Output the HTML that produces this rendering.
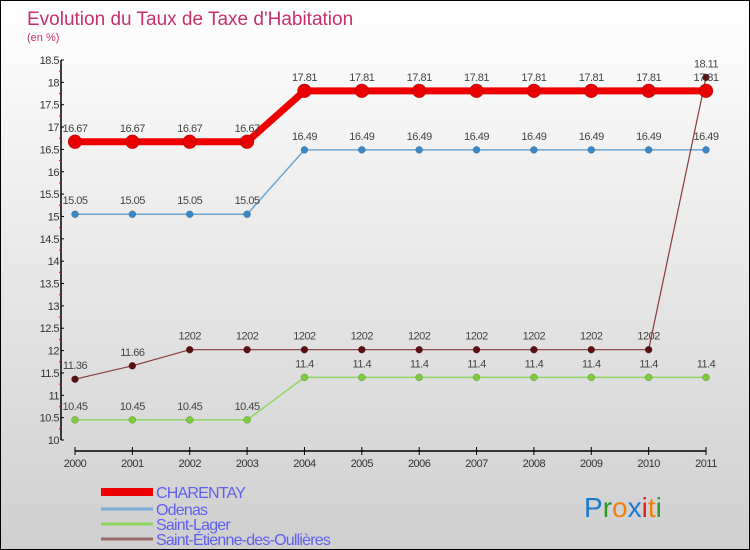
<!DOCTYPE html>
<html><head><meta charset="utf-8"><style>
body{margin:0}
#c{width:748px;height:548px;border:1px solid #000;background:linear-gradient(#fff,#cfcfcf);position:relative;font-family:"Liberation Sans",sans-serif;overflow:hidden}
</style></head><body>
<div id="c">
<svg id="s" width="748" height="548" style="position:absolute;left:0;top:0">
<text x="26" y="24" font-size="19" fill="#c8306a">Evolution du Taux de Taxe d'Habitation</text>
<text x="26" y="40" font-size="11" fill="#c8306a">(en %)</text>
</svg>
</div>
<script>
const years=["2000","2001","2002","2003","2004","2005","2006","2007","2008","2009","2010","2011"];
const charentay=[16.67,16.67,16.67,16.67,17.81,17.81,17.81,17.81,17.81,17.81,17.81,17.81];
const odenas=[15.05,15.05,15.05,15.05,16.49,16.49,16.49,16.49,16.49,16.49,16.49,16.49];
const saintLager=[10.45,10.45,10.45,10.45,11.4,11.4,11.4,11.4,11.4,11.4,11.4,11.4];
const saintEtienne=[11.36,11.66,12.02,12.02,12.02,12.02,12.02,12.02,12.02,12.02,12.02,18.11];
const yTicks=[10,10.5,11,11.5,12,12.5,13,13.5,14,14.5,15,15.5,16,16.5,17,17.5,18,18.5];
const seriesNames=["CHARENTAY","Odenas","Saint-Lager","Saint-Étienne-des-Oullières"];
const s=document.getElementById('s');const NS='http://www.w3.org/2000/svg';
function X(i){return 74+i*(705-74)/(years.length-1);}
function Y(v){return 439-(v-10)*(439-59)/8.5;}
function mk(t,a,p){const e=document.createElementNS(NS,t);for(const k in a)e.setAttribute(k,a[k]);(p||s).appendChild(e);return e;}
function fmt(v){return String(v).replace('12.02','1202');}
let ax=mk('line',{x1:60,y1:Y(18.5),x2:60,y2:Y(10),stroke:'#000','stroke-width':1.5});

let bx=mk('line',{x1:X(0),y1:450,x2:X(11),y2:450,stroke:'#000','stroke-width':1.5});

yTicks.forEach((v,i)=>{
 mk('line',{x1:60,y1:Y(v),x2:63,y2:Y(v),stroke:'#000'});
 if(i<yTicks.length-1)mk('line',{x1:58,y1:Y(v+0.25),x2:61,y2:Y(v+0.25),stroke:'#e00'});
 const t=mk('text',{x:58,y:Y(v)+4,'text-anchor':'end','font-size':11,fill:'#333','letter-spacing':'-0.5'});t.textContent=v;
 
});
years.forEach((y,i)=>{
 mk('line',{x1:X(i),y1:446,x2:X(i),y2:454,stroke:'#000'});
 const t=mk('text',{x:X(i),y:466,'text-anchor':'middle','font-size':11,fill:'#333','letter-spacing':'-0.5'});t.textContent=y;
 
});
function series(d,col,w,r,fill,name){
 const g=mk('g',{});
 mk('polyline',{points:d.map((v,i)=>X(i)+','+Y(v)).join(' '),fill:'none',stroke:col,'stroke-width':w},g);
 d.forEach((v,i)=>{const c=mk('circle',{cx:X(i),cy:Y(v),r:r,fill:fill,stroke:'rgba(0,0,0,0.3)','stroke-width':0.5},g);
  
  const t=mk('text',{x:X(i),y:Y(v)-10,'text-anchor':'middle','font-size':11,fill:'#444','letter-spacing':'-0.5'},g);t.textContent=fmt(v);
  });
}
series(saintLager,'#8fd860',1.5,3.5,'#7ccc3c','saint-lager');
series(odenas,'#6aa6d6',1.5,3.5,'#3a88c8','odenas');
series(saintEtienne,'#8a3a3a',1.2,3.5,'#5a1010','saint-etienne');
series(charentay,'#ee0000',7,7,'#e80000','charentay');
const lc=['#ee0000','#7ab0d8','#8fd860','#9a6a6a'],lw=[8,3,3,3],ly=[491,508,523,538];
seriesNames.forEach((n,i)=>{
 const g=mk('g',{});
 mk('line',{x1:100,y1:ly[i],x2:152,y2:ly[i],stroke:lc[i],'stroke-width':lw[i]},g);
 const t=mk('text',{x:155,y:ly[i]+6,'font-size':16,fill:'#6060f0','letter-spacing':'-0.8'},g);t.textContent=n;
});
const lg=mk('text',{x:583,y:516,'font-size':28,'letter-spacing':'0'});

[['P','#1a7ad0'],['r','#2a9a2a'],['o','#f08010'],['x','#1a7ad0'],['i','#e02020'],['t','#f08010'],['i','#2a9a2a']].forEach(([c,f])=>{const sp=mk('tspan',{fill:f},lg);sp.textContent=c;});
</script>
</body></html>
